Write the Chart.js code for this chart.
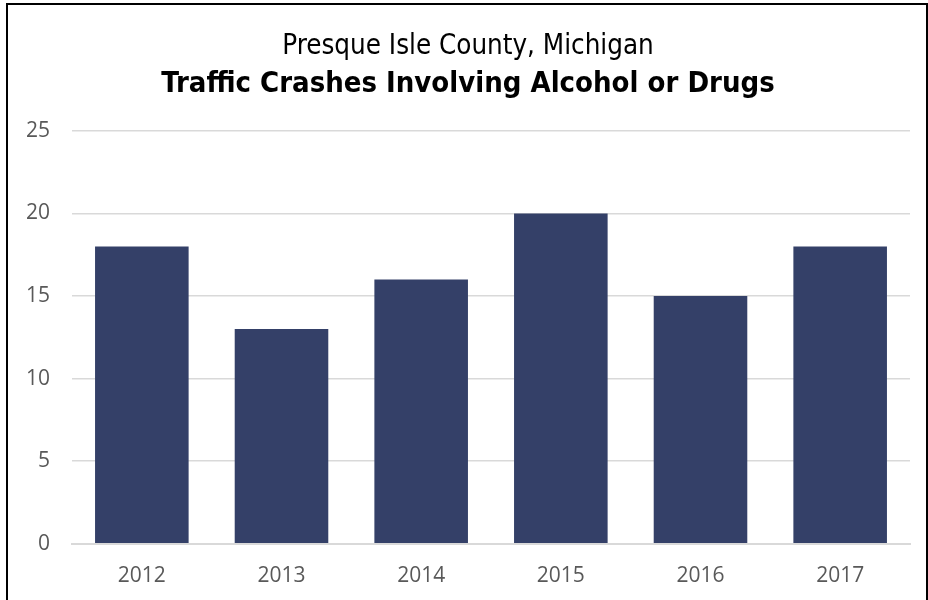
<!DOCTYPE html>
<html>
<head>
<meta charset="utf-8">
<script src="https://cdn.jsdelivr.net/npm/chart.js@4.4.1/dist/chart.umd.min.js"></script>
<style>
  body { margin: 0; background: #fff; overflow: hidden; }
  #frame {
    position: absolute; left: 6px; top: 3px; width: 918px; height: 640px;
    border: 2px solid #000; pointer-events: none;
  }
  #crash-chart { position: absolute; left: 0; top: 0; }
</style>
</head>
<body>
<canvas id="crash-chart" width="928" height="609"></canvas>
<div id="frame"></div>
<script>
const years = ['2012', '2013', '2014', '2015', '2016', '2017'];
const crashes = [18, 13, 16, 20, 15, 18];
const yTicks = [0, 5, 10, 15, 20, 25];

document.addEventListener('DOMContentLoaded', () => {
    const ctx = document.getElementById('crash-chart').getContext('2d');

    new Chart(ctx, {
        type: 'bar',
        data: {
            labels: years,
            datasets: [
                {
                    label: 'Crashes',
                    data: crashes,
                    backgroundColor: '#344068',
                    categoryPercentage: 0.67,
                    barPercentage: 1.0,
                }
            ]
        },
        options: {
            responsive: false,
            animation: false,
            layout: {
                padding: { left: 26, right: 18, top: 30, bottom: 0 }
            },
            plugins: {
                legend: { display: false },
                tooltip: { enabled: false },
                title: {
                    display: true,
                    text: 'Presque Isle County, Michigan',
                    color: '#000',
                    font: { family: 'DejaVu Sans Condensed', size: 27.5, weight: 'normal' },
                    padding: { top: 0, bottom: 4 }
                },
                subtitle: {
                    display: true,
                    text: 'Traffic Crashes Involving Alcohol or Drugs',
                    color: '#000',
                    font: { family: 'DejaVu Sans Condensed', size: 29, weight: 'bold' },
                    padding: { top: 0, bottom: 29 }
                }
            },
            scales: {
                x: {
                    grid: { display: false, drawTicks: false },
                    border: { display: true, color: '#d9d9d9', width: 2 },
                    ticks: {
                        color: '#595959',
                        font: { family: 'Open Sans', size: 21 },
                        padding: 20
                    }
                },
                y: {
                    min: 0,
                    max: 25,
                    afterBuildTicks: (axis) => {
                        axis.ticks = yTicks.map(v => ({ value: v }));
                    },
                    afterFit: (axis) => {
                        axis.width = 46;
                    },
                    grid: { color: '#d9d9d9', lineWidth: 1.5, drawTicks: false },
                    border: { display: false },
                    ticks: {
                        color: '#595959',
                        font: { family: 'Open Sans', size: 21 },
                        padding: 22
                    }
                }
            }
        }
    });
});
</script>
</body>
</html>
